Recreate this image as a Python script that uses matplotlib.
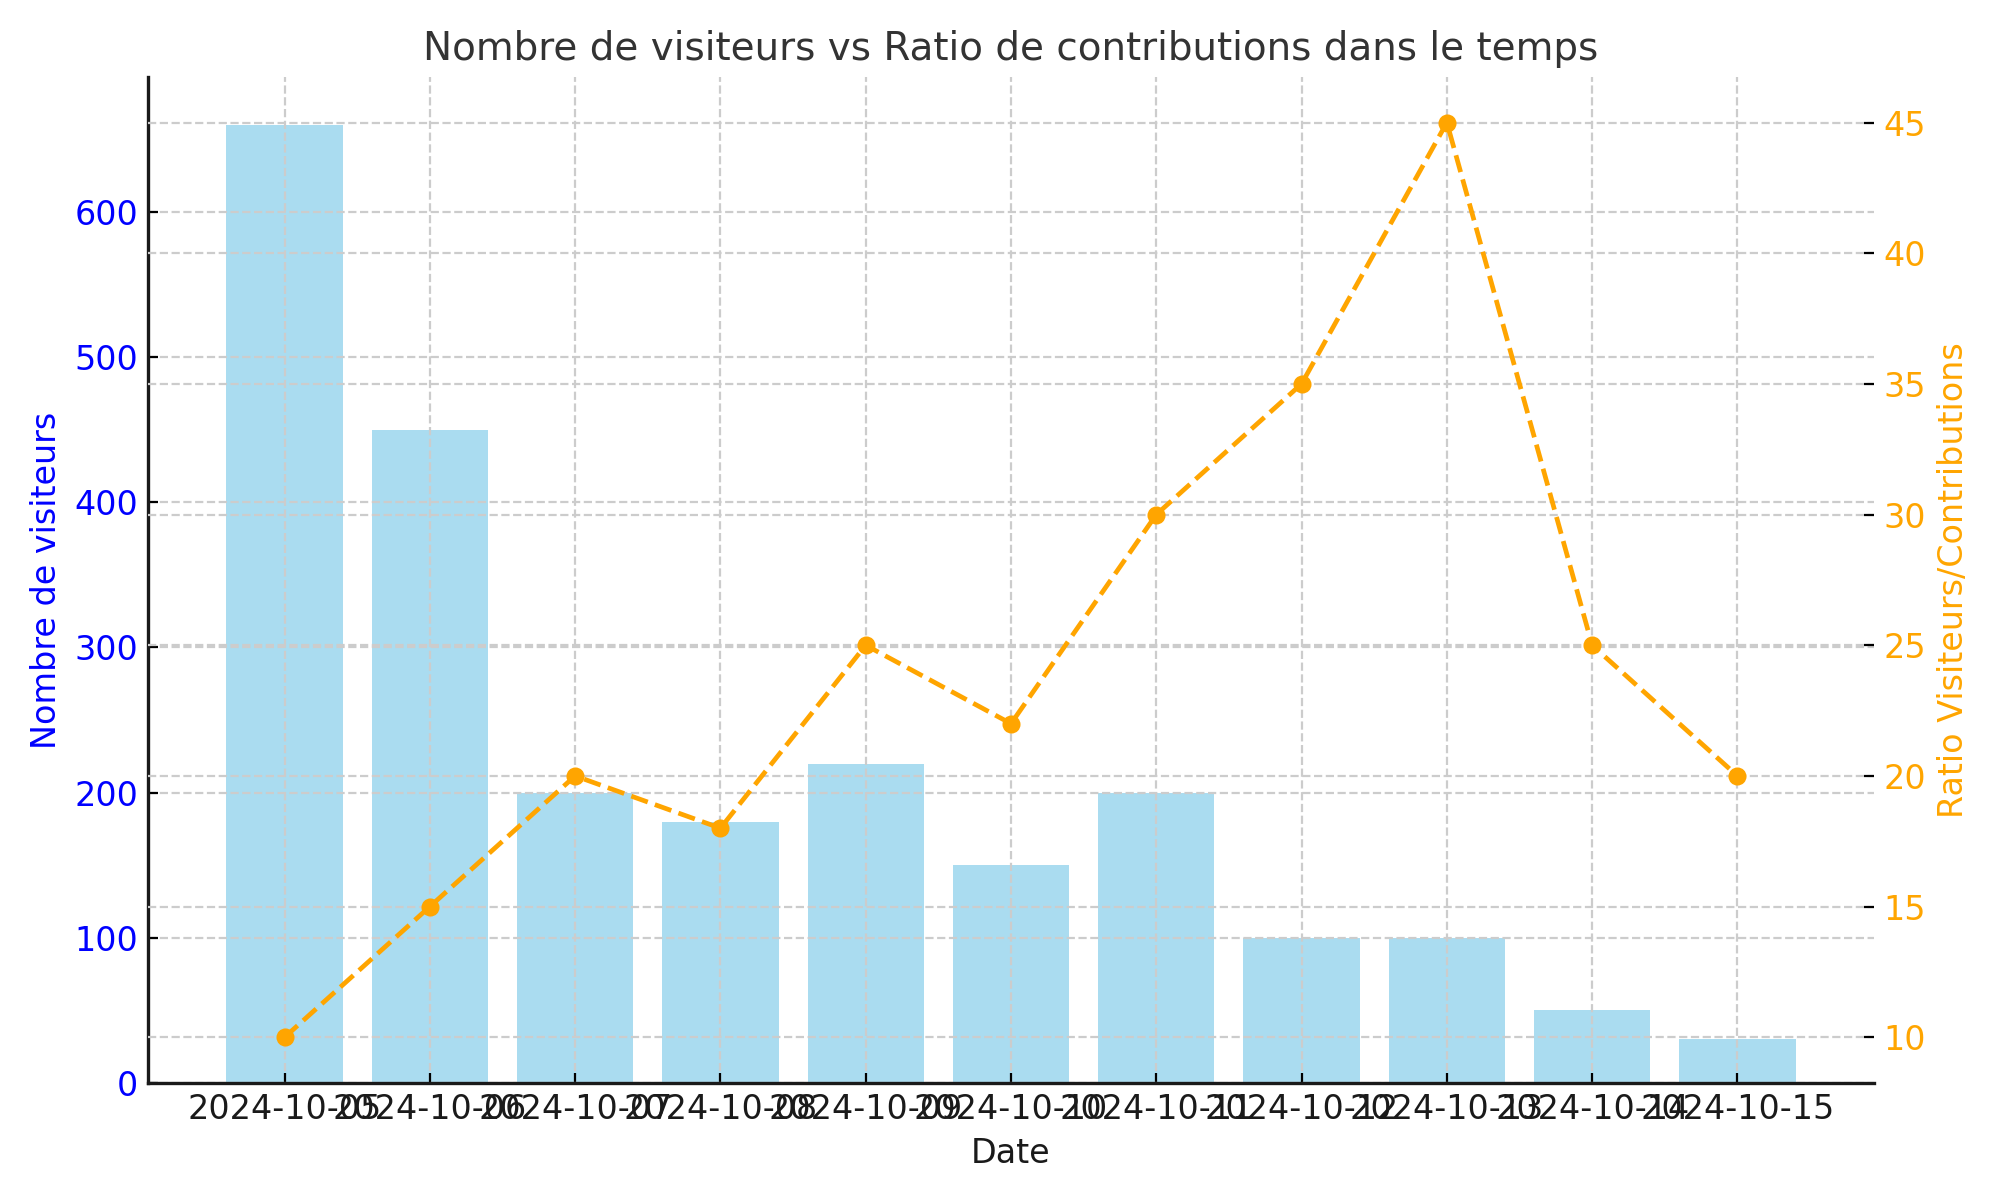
import matplotlib
matplotlib.use("Agg")
import matplotlib.pyplot as plt

dates = ["2024-10-05", "2024-10-06", "2024-10-07", "2024-10-08", "2024-10-09",
         "2024-10-10", "2024-10-11", "2024-10-12", "2024-10-13", "2024-10-14",
         "2024-10-15"]
visiteurs = [660, 450, 200, 180, 220, 150, 200, 100, 100, 50, 30]
ratio = [10, 15, 20, 18, 25, 22, 30, 35, 45, 25, 20]

plt.rcParams.update({
    'font.family': 'DejaVu Sans',
    'font.size': 12,
    'text.color': '#1a1a1a',
    'xtick.direction': 'in',
    'ytick.direction': 'in',
})

fig, ax1 = plt.subplots(figsize=(10, 6), dpi=200)
fig.subplots_adjust(left=0.074, right=0.937, top=0.936, bottom=0.0975)

x = range(len(dates))
ax1.bar(x, visiteurs, color='skyblue', alpha=0.7, width=0.8)
ax1.set_xticks(list(x))
ax1.set_xticklabels(dates, fontsize=12, color='#1a1a1a')
ax1.set_xlabel("Date", fontsize=12, color='#1a1a1a')
ax1.set_ylabel("Nombre de visiteurs", fontsize=12, color='blue')
ax1.tick_params(axis='y', labelcolor='blue', labelsize=12)
ax1.grid(True, linestyle='--', color='#cccccc', linewidth=0.8)

ax2 = ax1.twinx()
ax2.plot(x, ratio, color='orange', linestyle='--', marker='o', linewidth=1.7, markersize=5.5)
ax2.set_ylabel("Ratio Visiteurs/Contributions", fontsize=12, color='orange')
ax2.tick_params(axis='y', labelcolor='orange', labelsize=12)
ax2.grid(True, linestyle='--', color='#cccccc', linewidth=0.8)

for a in (ax1, ax2):
    a.spines['top'].set_visible(False)
    a.spines['right'].set_visible(False)
    for s in ('left', 'bottom'):
        a.spines[s].set_linewidth(1.2)
        a.spines[s].set_color('#1a1a1a')
ax2.spines['left'].set_visible(False)
ax2.spines['bottom'].set_visible(False)

ax1.set_title("Nombre de visiteurs vs Ratio de contributions dans le temps",
              fontsize=14, color='#333333')

fig.savefig("out.png")
